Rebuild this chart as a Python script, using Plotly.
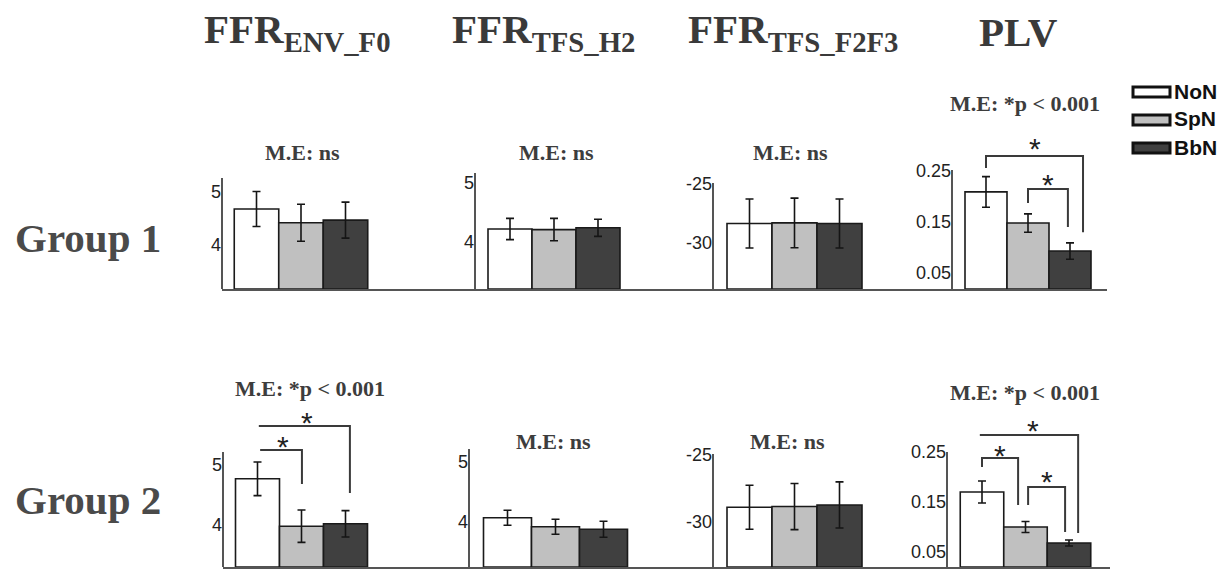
import plotly.graph_objects as go

W, H = 1227, 569

# ---------------- data ----------------
conditions = ["NoN", "SpN", "BbN"]
measures = ["FFR<sub>ENV_F0</sub>", "FFR<sub>TFS_H2</sub>", "FFR<sub>TFS_F2F3</sub>", "PLV"]
groups = ["Group 1", "Group 2"]

g1_env_mean = [4.68, 4.42, 4.47]
g1_env_err = [0.33, 0.35, 0.34]
g1_h2_mean = [4.22, 4.21, 4.24]
g1_h2_err = [0.18, 0.19, 0.145]
g1_f2f3_mean = [-28.35, -28.3, -28.35]
g1_f2f3_err = [2.08, 2.10, 2.08]
g1_plv_mean = [0.209, 0.148, 0.093]
g1_plv_err = [0.030, 0.018, 0.016]

g2_env_mean = [4.77, 3.98, 4.02]
g2_env_err = [0.28, 0.27, 0.22]
g2_h2_mean = [4.07, 3.92, 3.88]
g2_h2_err = [0.125, 0.125, 0.133]
g2_f2f3_mean = [-28.9, -28.85, -28.73]
g2_f2f3_err = [1.64, 1.72, 1.72]
g2_plv_mean = [0.170, 0.100, 0.068]
g2_plv_err = [0.022, 0.011, 0.006]

ffr_ticks = [4, 5]
ffr_ticktext = ["4", "5"]
tfs_ticks = [-30, -25]
tfs_ticktext = ["-30", "-25"]
plv_ticks = [0.05, 0.15, 0.25]
plv_ticktext = ["0.05", "0.15", "0.25"]

me_labels = ["M.E: ns", "M.E: ns", "M.E: ns", "M.E: *p < 0.001",
             "M.E: *p < 0.001", "M.E: ns", "M.E: ns", "M.E: *p < 0.001"]

means = [g1_env_mean, g1_h2_mean, g1_f2f3_mean, g1_plv_mean,
         g2_env_mean, g2_h2_mean, g2_f2f3_mean, g2_plv_mean]
errs = [g1_env_err, g1_h2_err, g1_f2f3_err, g1_plv_err,
        g2_env_err, g2_h2_err, g2_f2f3_err, g2_plv_err]
ticks = [ffr_ticks, ffr_ticks, tfs_ticks, plv_ticks,
         ffr_ticks, ffr_ticks, tfs_ticks, plv_ticks]
ticktexts = [ffr_ticktext, ffr_ticktext, tfs_ticktext, plv_ticktext,
             ffr_ticktext, ffr_ticktext, tfs_ticktext, plv_ticktext]

# ---------------- styles / layout (pixel geometry) ----------------
fills = ["#ffffff", "#c0c0c0", "#404040"]
AX = "#555555"
TXT = "#3d3d3d"
SERIF = "Liberation Serif, DejaVu Serif, serif"
SANS = "Liberation Sans, Arial, sans-serif"

# x0/x1: x-axis line extent, c0: first bar centre, pitch: bar width,
# base: baseline px, top: y-axis top px, dtop: domain top px,
# ppu: pixels per value unit, ymin: value at baseline
geo = [
    dict(x0=222, x1=475, c0=256.5, pitch=44.5, base=289, top=178, dtop=100, ppu=53, ymin=3.17),
    dict(x0=475, x1=713, c0=510, pitch=44, base=289, top=173, dtop=100, ppu=59, ymin=3.203),
    dict(x0=713, x1=952, c0=749.5, pitch=45, base=289, top=183, dtop=100, ppu=11.8, ymin=-33.90),
    dict(x0=952, x1=1107, c0=986, pitch=42, base=289, top=170, dtop=100, ppu=510, ymin=0.0186),
    dict(x0=223, x1=469, c0=257.5, pitch=44, base=567, top=452, dtop=380, ppu=60, ymin=3.30),
    dict(x0=469, x1=713, c0=507.5, pitch=48, base=567, top=449, dtop=380, ppu=60, ymin=3.25),
    dict(x0=713, x1=947, c0=749.5, pitch=45, base=567, top=454, dtop=380, ppu=13.4, ymin=-33.36),
    dict(x0=947, x1=1110, c0=982, pitch=43.5, base=567, top=452, dtop=380, ppu=500, ymin=0.02),
]

# significance brackets: panel, x-left, x-right, y-top, y-left-leg-end, y-right-leg-end, star x, star y
brackets = [
    (3, 0.0, 2.31, 0.2794, 0.256, 0.130, 1.17, 0.307),
    (3, 1.0, 1.95, 0.2147, 0.187, 0.140, 1.48, 0.238),
    (4, 0.06, 1.01, 5.25, 5.25, 4.683, 0.58, 5.417),
    (4, 0.03, 2.10, 5.65, 5.65, 4.533, 1.125, 5.833),
    (7, -0.05, 2.21, 0.284, 0.284, 0.088, 1.17, 0.308),
    (7, 0.0, 0.83, 0.238, 0.220, 0.144, 0.41, 0.258),
    (7, 1.06, 1.91, 0.180, 0.144, 0.090, 1.49, 0.206),
]

me_pos = [(302, 153), (556, 153), (790, 153), (1025, 103),
          (310, 388), (553, 442), (787, 442), (1025, 392)]
header_pos = [297, 543, 793, 1018]
group_pos = [(88, 238), (88, 500)]


def X(px):
    return px / W


def Y(py):
    return 1 - py / H


fig = go.Figure()
shapes = []
annotations = []

for k in range(8):
    g = geo[k]
    n = k + 1
    xa = "x" if n == 1 else f"x{n}"
    ya = "y" if n == 1 else f"y{n}"
    ymin = g["ymin"]
    ymax = ymin + (g["base"] - g["dtop"]) / g["ppu"]
    ytop = ymin + (g["base"] - g["top"]) / g["ppu"]
    r0 = -(g["c0"] - g["x0"]) / g["pitch"]
    r1 = (g["x1"] - g["c0"]) / g["pitch"]

    fig.add_trace(go.Bar(
        x=[0, 1, 2], y=[m - ymin for m in means[k]], base=ymin, width=1,
        marker=dict(color=fills, line=dict(color="#1a1a1a", width=1.6)),
        xaxis=xa, yaxis=ya, showlegend=False, hoverinfo="skip"))
    fig.add_trace(go.Scatter(
        x=[0, 1, 2], y=means[k], mode="markers",
        marker=dict(size=1, opacity=0),
        error_y=dict(type="data", array=errs[k], visible=True,
                     color="#151515", thickness=1.6, width=4),
        xaxis=xa, yaxis=ya, showlegend=False, hoverinfo="skip"))

    fig.update_layout({
        ("xaxis" if n == 1 else f"xaxis{n}"): dict(
            domain=[X(g["x0"]), X(g["x1"])], range=[r0, r1], anchor=ya,
            showline=True, linecolor=AX, linewidth=2, showticklabels=False,
            ticks="", showgrid=False, zeroline=False, fixedrange=True),
        ("yaxis" if n == 1 else f"yaxis{n}"): dict(
            domain=[Y(g["base"]), Y(g["dtop"])], range=[ymin, ymax], anchor=xa,
            showline=False, showgrid=False, zeroline=False, ticks="",
            tickvals=ticks[k], ticktext=ticktexts[k],
            tickfont=dict(family=SANS, size=18, color="#222222"), fixedrange=True),
    })
    shapes.append(dict(type="line", xref=f"{xa} domain", yref=ya,
                       x0=0, x1=0, y0=ymin, y1=ytop,
                       line=dict(color=AX, width=2)))

    annotations.append(dict(text="<b>" + me_labels[k] + "</b>",
                            x=X(me_pos[k][0]), y=Y(me_pos[k][1]),
                            xref="paper", yref="paper", showarrow=False,
                            xanchor="center", yanchor="middle",
                            font=dict(family=SERIF, size=22, color=TXT)))

for (k, xl, xr, yt, yl, yr, sx, sy) in brackets:
    n = k + 1
    xa = "x" if n == 1 else f"x{n}"
    ya = "y" if n == 1 else f"y{n}"
    shapes.append(dict(type="path", xref=xa, yref=ya,
                       path=f"M {xl},{yl} L {xl},{yt} L {xr},{yt} L {xr},{yr}",
                       line=dict(color="#3a3a3a", width=2)))
    annotations.append(dict(text="*", x=sx, y=sy, xref=xa, yref=ya, showarrow=False,
                            xanchor="center", yanchor="middle", yshift=-7,
                            font=dict(family=SANS, size=30, color="#222222")))

for i, m in enumerate(measures):
    annotations.append(dict(text="<b>" + m + "</b>", x=X(header_pos[i]), y=Y(32),
                            xref="paper", yref="paper",
                            showarrow=False, xanchor="center", yanchor="middle",
                            font=dict(family=SERIF, size=41, color="#3a3a3a")))

for i, gname in enumerate(groups):
    annotations.append(dict(text=f"<b>{gname}</b>", x=X(group_pos[i][0]), y=Y(group_pos[i][1]),
                            xref="paper", yref="paper", showarrow=False,
                            xanchor="center", yanchor="middle",
                            font=dict(family=SERIF, size=41, color="#4a4a4a")))

# legend (manual)
leg_y = [92, 120, 148]
for i, c in enumerate(conditions):
    shapes.append(dict(type="rect", xref="paper", yref="paper",
                       x0=X(1133), x1=X(1170), y0=Y(leg_y[i] + 5), y1=Y(leg_y[i] - 5),
                       fillcolor=fills[i], line=dict(color="#111111", width=3)))
    annotations.append(dict(text=f"<b>{c}</b>", x=X(1172), y=Y(leg_y[i] - 1),
                            xref="paper", yref="paper", showarrow=False,
                            xanchor="left", yanchor="middle",
                            font=dict(family=SANS, size=21, color="#111111")))

fig.update_layout(
    width=W, height=H, autosize=False,
    margin=dict(l=0, r=0, t=0, b=0),
    paper_bgcolor="white", plot_bgcolor="rgba(0,0,0,0)",
    showlegend=False, barmode="overlay",
    shapes=shapes, annotations=annotations,
)

fig.write_html("out.html",
               config={"displayModeBar": False, "staticPlot": False},
               post_script="document.body.style.margin='0px';"
                           "document.body.style.padding='0px';"
                           "document.body.style.overflow='hidden';")
